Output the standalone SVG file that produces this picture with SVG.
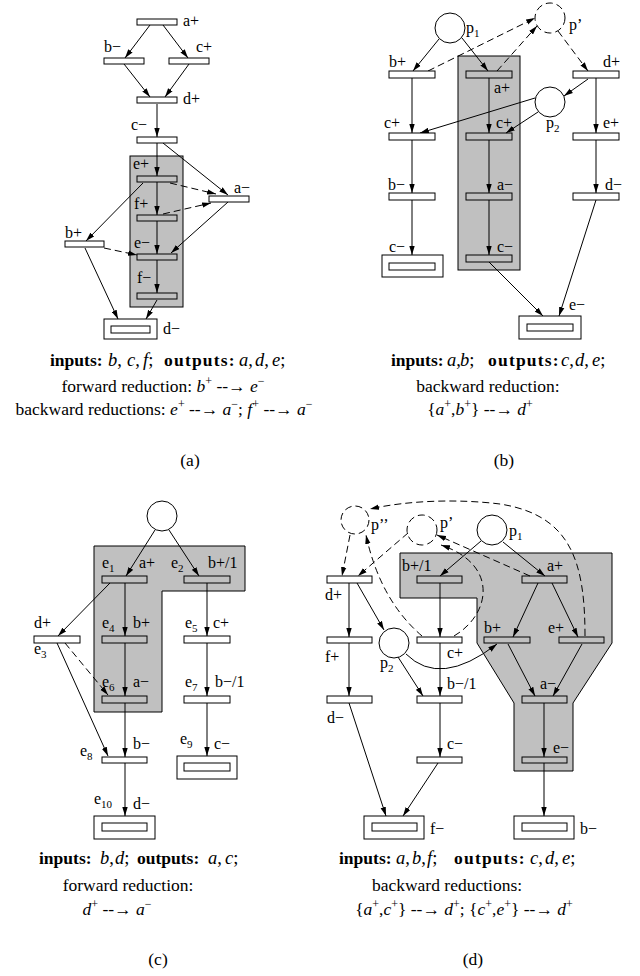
<svg xmlns="http://www.w3.org/2000/svg" width="640" height="976" viewBox="0 0 640 976">
<defs>
<marker id="ah" viewBox="0 0 10 6" refX="10" refY="3" markerWidth="9" markerHeight="6" markerUnits="userSpaceOnUse" orient="auto"><path d="M0,0 L10,3 L0,6 z" fill="#000"/></marker>
<style>
.bg{fill:#c0c0c0;stroke:#000;stroke-width:1}
.t{fill:#fff;stroke:#000;stroke-width:1}
.tg{fill:none;stroke:#000;stroke-width:1}
.pl{fill:#fff;stroke:#000;stroke-width:1}
.pd{fill:none;stroke:#000;stroke-width:1;stroke-dasharray:7 4}
.a{fill:none;stroke:#000;stroke-width:1;marker-end:url(#ah)}
.ad{fill:none;stroke:#000;stroke-width:1;stroke-dasharray:7 4;marker-end:url(#ah)}
text{font-family:"Liberation Serif","Times New Roman",serif;fill:#000}
.l{font-size:16px}
.c{font-size:17.5px;text-anchor:middle}
.cs{font-size:18.5px}
.b{font-weight:bold;font-size:17.5px}
.ls{letter-spacing:1.2px}
.i{font-style:italic}
.s{font-size:11px}
.u{font-size:12px}
</style>
</defs>

<!-- ============ Panel (a) ============ -->
<g id="a-region"><rect class="bg" x="130" y="156" width="53" height="151"/></g>
<g id="a-conn">
<line class="a" x1="150" y1="25" x2="125" y2="58"/>
<line class="a" x1="163" y1="25" x2="188" y2="58"/>
<line class="a" x1="124" y1="64" x2="150" y2="97"/>
<line class="a" x1="189" y1="64" x2="165" y2="97"/>
<line class="a" x1="157" y1="104" x2="157" y2="137"/>
<line class="a" x1="157" y1="143" x2="157" y2="176"/>
<line class="a" x1="163" y1="143" x2="228" y2="195"/>
<line class="a" x1="157" y1="182" x2="157" y2="215"/>
<line class="a" x1="157" y1="221" x2="157" y2="254"/>
<line class="a" x1="157" y1="260" x2="157" y2="293"/>
<line class="ad" x1="170" y1="183" x2="216" y2="194"/>
<line class="ad" x1="163" y1="214" x2="211" y2="203"/>
<line class="a" x1="228" y1="202" x2="171" y2="253"/>
<line class="a" x1="143" y1="183" x2="86" y2="241"/>
<line class="ad" x1="104" y1="248" x2="137" y2="255"/>
<line class="a" x1="85" y1="248" x2="118" y2="319"/>
<line class="a" x1="157" y1="300" x2="146" y2="319"/>
</g>
<g id="a-aplus"><rect class="t" x="137" y="19" width="40" height="6"/><text class="l" x="183" y="26">a+</text></g>
<g id="a-bminus"><rect class="t" x="104" y="58" width="40" height="6"/><text class="l" x="104" y="52">b−</text></g>
<g id="a-cplus"><rect class="t" x="169" y="58" width="40" height="6"/><text class="l" x="196" y="52">c+</text></g>
<g id="a-dplus"><rect class="t" x="137" y="97" width="40" height="6"/><text class="l" x="183" y="104">d+</text></g>
<g id="a-cminus"><rect class="t" x="137" y="137" width="40" height="6"/><text class="l" x="131" y="130">c−</text></g>
<g id="a-eplus"><rect class="tg" x="137" y="176" width="40" height="6"/><text class="l" x="133" y="169">e+</text></g>
<g id="a-fplus"><rect class="tg" x="137" y="215" width="40" height="6"/><text class="l" x="134" y="209">f+</text></g>
<g id="a-eminus"><rect class="tg" x="137" y="254" width="40" height="6"/><text class="l" x="134" y="248">e−</text></g>
<g id="a-fminus"><rect class="tg" x="137" y="293" width="40" height="6"/><text class="l" x="137" y="283">f−</text></g>
<g id="a-aminus"><rect class="t" x="209" y="196" width="40" height="6"/><text class="l" x="234" y="193">a−</text></g>
<g id="a-bplus"><rect class="t" x="65" y="241" width="39" height="6"/><text class="l" x="65" y="238">b+</text></g>
<g id="a-dminus"><rect class="t" x="104" y="319" width="53" height="20"/><rect class="t" x="111" y="326" width="39" height="7"/><text class="l" x="163" y="334">d−</text></g>
<g id="a-caption">
<text class="cs" y="366"><tspan x="50" class="b">inputs:</tspan><tspan x="108" class="i">b</tspan>,<tspan x="127" class="i">c</tspan>,<tspan x="143" class="i">f</tspan>;<tspan x="164" class="b ls">outputs:</tspan><tspan x="239" class="i">a</tspan>,<tspan x="255" class="i">d</tspan>,<tspan x="272" class="i">e</tspan>;</text>
<text class="c" x="163" y="392">forward reduction: <tspan class="i">b</tspan><tspan class="u" dy="-7">+</tspan><tspan dy="7"> --→ </tspan><tspan class="i">e</tspan><tspan class="u" dy="-7">−</tspan></text>
<text class="c" x="164" y="415">backward reductions: <tspan class="i">e</tspan><tspan class="u" dy="-7">+</tspan><tspan dy="7"> --→ </tspan><tspan class="i">a</tspan><tspan class="u" dy="-7">−</tspan><tspan dy="7">; </tspan><tspan class="i">f</tspan><tspan class="u" dy="-7">+</tspan><tspan dy="7"> --→ </tspan><tspan class="i">a</tspan><tspan class="u" dy="-7">−</tspan></text>
<text class="c" x="190" y="466">(a)</text>
</g>

<!-- ============ Panel (b) ============ -->
<g id="b-region"><rect class="bg" x="458" y="56" width="62" height="214"/></g>
<g id="b-conn">
<line class="a" x1="439" y1="39" x2="413" y2="71"/>
<line class="a" x1="462" y1="38" x2="488" y2="71"/>
<line class="ad" x1="428" y1="71" x2="535" y2="18"/>
<line class="ad" x1="497" y1="71" x2="537" y2="26"/>
<line class="ad" x1="558" y1="31" x2="588" y2="71"/>
<line class="a" x1="588" y1="79" x2="564" y2="96"/>
<line class="a" x1="535" y1="98" x2="420" y2="133"/>
<line class="a" x1="538" y1="112" x2="506" y2="133"/>
<line class="a" x1="412" y1="78" x2="412" y2="133"/>
<line class="a" x1="489" y1="78" x2="489" y2="133"/>
<line class="a" x1="596" y1="78" x2="596" y2="133"/>
<line class="a" x1="412" y1="140" x2="412" y2="193"/>
<line class="a" x1="489" y1="140" x2="489" y2="193"/>
<line class="a" x1="596" y1="140" x2="596" y2="193"/>
<line class="a" x1="412" y1="200" x2="412" y2="255"/>
<line class="a" x1="489" y1="200" x2="489" y2="255"/>
<line class="a" x1="489" y1="262" x2="543" y2="316"/>
<line class="a" x1="596" y1="200" x2="559" y2="316"/>
</g>
<g id="b-p1"><circle class="pl" cx="450" cy="28" r="15"/><text class="l" x="466" y="33">p<tspan class="s" dy="4">1</tspan></text></g>
<g id="b-pprime"><circle class="pd" cx="550" cy="18" r="15"/><text class="l" x="569" y="30">p’</text></g>
<g id="b-p2"><circle class="pl" cx="550" cy="102" r="15"/><text class="l" x="546" y="128">p<tspan class="s" dy="4">2</tspan></text></g>
<g id="b-bplus"><rect class="t" x="389" y="71" width="46" height="7"/><text class="l" x="389" y="67">b+</text></g>
<g id="b-aplus"><rect class="tg" x="466" y="71" width="46" height="7"/><text class="l" x="494" y="93">a+</text></g>
<g id="b-dplus"><rect class="t" x="573" y="71" width="46" height="7"/><text class="l" x="603" y="67">d+</text></g>
<g id="b-cplus1"><rect class="t" x="389" y="133" width="46" height="7"/><text class="l" x="384" y="128">c+</text></g>
<g id="b-cplus2"><rect class="tg" x="466" y="133" width="46" height="7"/><text class="l" x="496" y="128">c+</text></g>
<g id="b-eplus"><rect class="t" x="573" y="133" width="46" height="7"/><text class="l" x="603" y="128">e+</text></g>
<g id="b-bminus"><rect class="t" x="389" y="193" width="46" height="7"/><text class="l" x="388" y="190">b−</text></g>
<g id="b-aminus"><rect class="tg" x="466" y="193" width="46" height="7"/><text class="l" x="497" y="190">a−</text></g>
<g id="b-dminus"><rect class="t" x="573" y="193" width="46" height="7"/><text class="l" x="605" y="190">d−</text></g>
<g id="b-cminus1"><rect class="t" x="382" y="255" width="61" height="22"/><rect class="t" x="389" y="263" width="46" height="7"/><text class="l" x="389" y="252">c−</text></g>
<g id="b-cminus2"><rect class="tg" x="466" y="255" width="46" height="7"/><text class="l" x="497" y="252">c−</text></g>
<g id="b-eminus"><rect class="t" x="519" y="316" width="62" height="23"/><rect class="t" x="527" y="324" width="46" height="7"/><text class="l" x="569" y="310">e−</text></g>
<g id="b-caption">
<text class="cs" y="366"><tspan x="391" class="b">inputs:</tspan><tspan x="447" class="i">a</tspan>,<tspan x="460" class="i">b</tspan>;<tspan x="488" class="b ls">outputs:</tspan><tspan x="561" class="i">c</tspan>,<tspan x="575" class="i">d</tspan>,<tspan x="592" class="i">e</tspan>;</text>
<text class="c" x="488" y="392">backward reduction:</text>
<text class="c" x="480" y="415">{<tspan class="i">a</tspan><tspan class="u" dy="-7">+</tspan><tspan dy="7">,</tspan><tspan class="i">b</tspan><tspan class="u" dy="-7">+</tspan><tspan dy="7">} --→ </tspan><tspan class="i">d</tspan><tspan class="u" dy="-7">+</tspan></text>
<text class="c" x="504" y="466">(b)</text>
</g>

<!-- ============ Panel (c) ============ -->
<g id="c-region"><polygon class="bg" points="94,546 245,546 245,591 162,591 162,712 94,712"/></g>
<g id="c-conn">
<line class="a" x1="155" y1="530" x2="126" y2="576"/>
<line class="a" x1="169" y1="530" x2="199" y2="576"/>
<line class="a" x1="125" y1="583" x2="125" y2="636"/>
<line class="a" x1="207" y1="583" x2="207" y2="636"/>
<line class="a" x1="110" y1="583" x2="58" y2="636"/>
<line class="a" x1="125" y1="643" x2="125" y2="696"/>
<line class="a" x1="207" y1="643" x2="207" y2="696"/>
<line class="ad" x1="65" y1="643" x2="108" y2="695"/>
<line class="a" x1="57" y1="643" x2="108" y2="756"/>
<line class="a" x1="125" y1="703" x2="125" y2="757"/>
<line class="a" x1="207" y1="703" x2="207" y2="756"/>
<line class="a" x1="125" y1="763" x2="125" y2="816"/>
</g>
<g id="c-place"><circle class="pl" cx="162" cy="516" r="15"/></g>
<g id="c-e1"><rect class="tg" x="102" y="576" width="45" height="7"/><text class="l" x="102" y="568">e<tspan class="s" dy="4">1</tspan></text><text class="l" x="139" y="568">a+</text></g>
<g id="c-e2"><rect class="tg" x="184" y="576" width="46" height="7"/><text class="l" x="171" y="568">e<tspan class="s" dy="4">2</tspan></text><text class="l" x="208" y="568">b+/1</text></g>
<g id="c-e3"><rect class="t" x="34" y="636" width="46" height="7"/><text class="l" x="34" y="628">d+</text><text class="l" x="34" y="654">e<tspan class="s" dy="4">3</tspan></text></g>
<g id="c-e4"><rect class="tg" x="102" y="636" width="45" height="7"/><text class="l" x="102" y="628">e<tspan class="s" dy="4">4</tspan></text><text class="l" x="133" y="628">b+</text></g>
<g id="c-e5"><rect class="t" x="184" y="636" width="46" height="7"/><text class="l" x="185" y="628">e<tspan class="s" dy="4">5</tspan></text><text class="l" x="213" y="628">c+</text></g>
<g id="c-e6"><rect class="tg" x="102" y="696" width="45" height="7"/><text class="l" x="102" y="687">e<tspan class="s" dy="4">6</tspan></text><text class="l" x="133" y="687">a−</text></g>
<g id="c-e7"><rect class="t" x="184" y="696" width="46" height="7"/><text class="l" x="185" y="687">e<tspan class="s" dy="4">7</tspan></text><text class="l" x="215" y="687">b−/1</text></g>
<g id="c-e8"><rect class="t" x="102" y="757" width="45" height="6"/><text class="l" x="80" y="756">e<tspan class="s" dy="4">8</tspan></text><text class="l" x="133" y="749">b−</text></g>
<g id="c-e9"><rect class="t" x="177" y="756" width="60" height="23"/><rect class="t" x="184" y="763" width="46" height="8"/><text class="l" x="180" y="744">e<tspan class="s" dy="4">9</tspan></text><text class="l" x="214" y="749">c−</text></g>
<g id="c-e10"><rect class="t" x="94" y="816" width="61" height="23"/><rect class="t" x="102" y="823" width="45" height="8"/><text class="l" x="94" y="804">e<tspan class="s" dy="4">10</tspan></text><text class="l" x="133" y="809">d−</text></g>
<g id="c-caption">
<text class="cs" y="864"><tspan x="39" class="b">inputs:</tspan><tspan x="100" class="i">b</tspan>,<tspan x="115" class="i">d</tspan>;<tspan x="137" class="b">outputs:</tspan><tspan x="208" class="i">a</tspan>,<tspan x="225" class="i">c</tspan>;</text>
<text class="c" x="128" y="891">forward reduction:</text>
<text class="c" x="117" y="915"><tspan class="i">d</tspan><tspan class="u" dy="-7">+</tspan><tspan dy="7"> --→ </tspan><tspan class="i">a</tspan><tspan class="u" dy="-7">−</tspan></text>
<text class="c" x="158" y="965">(c)</text>
</g>

<!-- ============ Panel (d) ============ -->
<g id="d-region"><polygon class="bg" points="400,553 612,553 612,643 573,703 573,771 514,771 514,703 477,643 477,598 400,598"/></g>
<g id="d-conn">
<line class="a" x1="481" y1="541" x2="440" y2="576"/>
<line class="a" x1="503" y1="542" x2="545" y2="576"/>
<line class="a" x1="538" y1="583" x2="513" y2="637"/>
<line class="a" x1="552" y1="583" x2="578" y2="637"/>
<line class="a" x1="440" y1="583" x2="440" y2="637"/>
<line class="a" x1="349" y1="583" x2="349" y2="637"/>
<line class="a" x1="357" y1="583" x2="384" y2="630"/>
<path class="a" d="M406,654 Q440,688 497,644"/>
<line class="a" x1="398" y1="657" x2="423" y2="696"/>
<line class="a" x1="440" y1="643" x2="440" y2="696"/>
<line class="a" x1="349" y1="643" x2="349" y2="696"/>
<line class="a" x1="508" y1="644" x2="535" y2="696"/>
<line class="a" x1="582" y1="644" x2="553" y2="696"/>
<line class="a" x1="544" y1="703" x2="544" y2="757"/>
<line class="a" x1="544" y1="763" x2="544" y2="816"/>
<line class="a" x1="440" y1="703" x2="440" y2="757"/>
<line class="a" x1="349" y1="703" x2="386" y2="816"/>
<line class="a" x1="438" y1="763" x2="403" y2="816"/>
<line class="ad" x1="350" y1="535" x2="342" y2="576"/>
<line class="ad" x1="408" y1="533" x2="358" y2="576"/>
<path class="ad" d="M422,636 Q380,600 366,535"/>
<path class="ad" d="M454,636 C490,615 500,565 441,545"/>
<line class="ad" x1="530" y1="576" x2="437" y2="535"/>
<path class="ad" d="M585,636 C585,560 570,515 500,504 C460,499 410,500 370,509"/>
</g>
<g id="d-ppp"><circle class="pd" cx="355" cy="520" r="14"/><text class="l" x="371" y="530">p’’</text></g>
<g id="d-pp"><circle class="pd" cx="422" cy="530" r="15"/><text class="l" x="440" y="528">p’</text></g>
<g id="d-p1"><circle class="pl" cx="492" cy="530" r="15"/><text class="l" x="509" y="536">p<tspan class="s" dy="4">1</tspan></text></g>
<g id="d-p2"><circle class="pl" cx="394" cy="643" r="15"/><text class="l" x="380" y="668">p<tspan class="s" dy="4">2</tspan></text></g>
<g id="d-bplus1"><rect class="tg" x="417" y="576" width="45" height="7"/><text class="l" x="402" y="571">b+/1</text></g>
<g id="d-aplus"><rect class="tg" x="522" y="576" width="45" height="7"/><text class="l" x="547" y="571">a+</text></g>
<g id="d-dplus"><rect class="t" x="327" y="576" width="45" height="7"/><text class="l" x="325" y="600">d+</text></g>
<g id="d-fplus"><rect class="t" x="327" y="637" width="45" height="6"/><text class="l" x="325" y="662">f+</text></g>
<g id="d-cplus"><rect class="t" x="417" y="637" width="45" height="6"/><text class="l" x="447" y="658">c+</text></g>
<g id="d-bplus"><rect class="tg" x="484" y="637" width="46" height="6"/><text class="l" x="484" y="633">b+</text></g>
<g id="d-eplus"><rect class="tg" x="559" y="637" width="45" height="6"/><text class="l" x="548" y="633">e+</text></g>
<g id="d-bminus1"><rect class="t" x="417" y="696" width="45" height="7"/><text class="l" x="447" y="689">b−/1</text></g>
<g id="d-dminus"><rect class="t" x="327" y="696" width="45" height="7"/><text class="l" x="327" y="723">d−</text></g>
<g id="d-aminus"><rect class="tg" x="522" y="696" width="45" height="7"/><text class="l" x="540" y="689">a−</text></g>
<g id="d-cminus"><rect class="t" x="417" y="757" width="45" height="6"/><text class="l" x="447" y="749">c−</text></g>
<g id="d-eminus"><rect class="tg" x="522" y="757" width="45" height="6"/><text class="l" x="553" y="753">e−</text></g>
<g id="d-fminus"><rect class="t" x="364" y="816" width="60" height="23"/><rect class="t" x="372" y="823" width="45" height="8"/><text class="l" x="430" y="834">f−</text></g>
<g id="d-bminus"><rect class="t" x="514" y="816" width="60" height="23"/><rect class="t" x="522" y="823" width="45" height="8"/><text class="l" x="580" y="834">b−</text></g>
<g id="d-caption">
<text class="cs" y="864"><tspan x="339" class="b">inputs:</tspan><tspan x="396" class="i">a</tspan>,<tspan x="412" class="i">b</tspan>,<tspan x="427" class="i">f</tspan>;<tspan x="454" class="b ls">outputs:</tspan><tspan x="530" class="i">c</tspan>,<tspan x="545" class="i">d</tspan>,<tspan x="562" class="i">e</tspan>;</text>
<text class="c" x="447" y="891">backward reductions:</text>
<text class="c" x="464" y="915">{<tspan class="i">a</tspan><tspan class="u" dy="-7">+</tspan><tspan dy="7">,</tspan><tspan class="i">c</tspan><tspan class="u" dy="-7">+</tspan><tspan dy="7">} --→ </tspan><tspan class="i">d</tspan><tspan class="u" dy="-7">+</tspan><tspan dy="7">; {</tspan><tspan class="i">c</tspan><tspan class="u" dy="-7">+</tspan><tspan dy="7">,</tspan><tspan class="i">e</tspan><tspan class="u" dy="-7">+</tspan><tspan dy="7">} --→ </tspan><tspan class="i">d</tspan><tspan class="u" dy="-7">+</tspan></text>
<text class="c" x="473" y="965">(d)</text>
</g>
</svg>
